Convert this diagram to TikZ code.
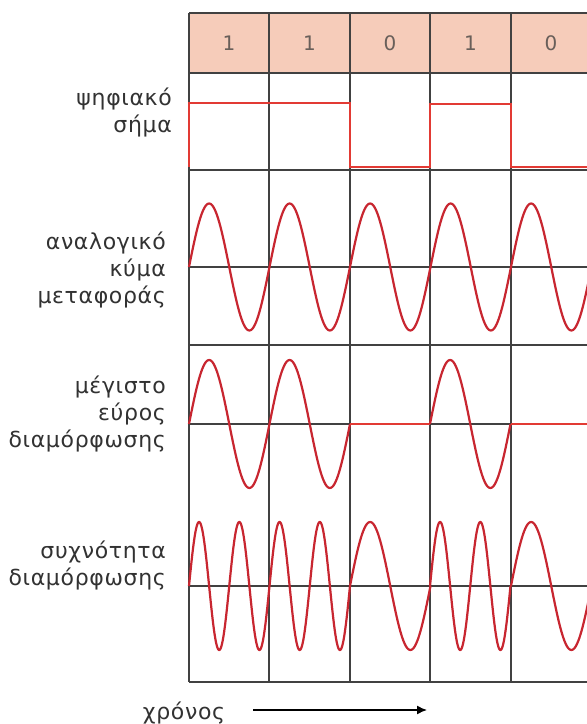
\documentclass[tikz,border=0pt]{standalone}
\usepackage{fontspec}
\setmainfont{DejaVu Sans}[LetterSpace=3]
\usetikzlibrary{arrows.meta}

\begin{document}
\begin{tikzpicture}[x=1pt,y=1pt,line width=0.4pt,
  gridline/.style={draw=gridgrey,line width=1.2pt},
  wave/.style={draw=wavered,line width=2.2pt,line join=round},
  digi/.style={draw=sigred,line width=1.6pt,line join=miter},
  lbl/.style={anchor=east,align=right,inner sep=0pt,font=\flbl,text=txtgrey},
  bit/.style={inner sep=0pt,font=\fbit,text=bitgrey}]
\definecolor{bitfill}{RGB}{246,204,186}
\definecolor{gridgrey}{RGB}{65,65,65}
\definecolor{wavered}{RGB}{200,38,48}
\definecolor{sigred}{RGB}{226,58,52}
\definecolor{txtgrey}{RGB}{50,50,50}
\definecolor{bitgrey}{RGB}{105,95,90}
\providecommand{\flbl}{\fontsize{22}{27}\selectfont}
\providecommand{\fbit}{\fontsize{20}{22}\selectfont}
\useasboundingbox (0,0) rectangle (587,724);
\clip (0,0) rectangle (587,724);
\fill[white] (0,0) rectangle (587,724);
\fill[bitfill] (189,651) rectangle (591,711);
% rows
\draw[gridline] (189,711) -- (591,711);
\draw[gridline] (189,651) -- (591,651);
\draw[gridline] (189,554) -- (591,554);
\draw[gridline] (189,457) -- (591,457);
\draw[gridline] (189,379) -- (591,379);
\draw[gridline] (189,300) -- (591,300);
\draw[gridline] (189,138) -- (591,138);
\draw[gridline] (189,42) -- (591,42);
% columns
\draw[gridline] (189,42) -- (189,711);
\draw[gridline] (269,42) -- (269,711);
\draw[gridline] (350,42) -- (350,711);
\draw[gridline] (430,42) -- (430,711);
\draw[gridline] (511,42) -- (511,711);
\draw[gridline] (591,42) -- (591,711);
% bits
\node[bit] (bitone) at (229,681) {1};
\node[bit] (bittwo) at (309.5,681) {1};
\node[bit] (bitthree) at (390,681) {0};
\node[bit] (bitfour) at (470.5,681) {1};
\node[bit] (bitfive) at (551,681) {0};
% digital signal
\draw[digi] (189,557) -- (189,621) -- (350,621) -- (350,557) -- (430,557) -- (430,620) -- (511,620) -- (511,557) -- (591,557);
% carrier
\draw[wave] plot[domain=0:1800,samples=361] ({189+\x/4.4721},{457+63.5*sin(\x)});
% amplitude modulation
\draw[wave] plot[domain=0:720,samples=145] ({189+\x/4.4721},{300+64*sin(\x)});
\draw[digi] (350,300) -- (430,300);
\draw[wave] plot[domain=0:360,samples=73] ({430+\x/4.4721},{300+64*sin(\x)});
\draw[digi] (511,300) -- (591,300);
% frequency modulation
\draw[wave] plot[domain=0:1440,samples=289] ({189+\x/8.9443},{138+64*sin(\x)});
\draw[wave] plot[domain=0:360,samples=73] ({350+\x/4.4721},{138+64*sin(\x)});
\draw[wave] plot[domain=0:720,samples=145] ({430+\x/8.9443},{138+64*sin(\x)});
\draw[wave] plot[domain=0:360,samples=73] ({511+\x/4.4721},{138+64*sin(\x)});
% labels
\node[lbl] (lbldigital) at (172,612) {ψηφιακό\\σήμα};
\node[lbl] (lblcarrier) at (166,454) {αναλογικό\\κύμα\\μεταφοράς};
\node[lbl] (lblam) at (166,310) {μέγιστο\\εύρος\\διαμόρφωσης};
\node[lbl] (lblfm) at (166,158) {συχνότητα\\διαμόρφωσης};
\node[anchor=base,inner sep=0pt,font=\flbl,text=txtgrey] (lbltime) at (184,5) {χρόνος};
\coordinate (tstart) at (253,14);
\coordinate (tend) at (427,14);
\draw[black,line width=1.4pt,-{Latex[length=10pt,width=9pt]}] (tstart) -- (tend);
\end{tikzpicture}
\end{document}
